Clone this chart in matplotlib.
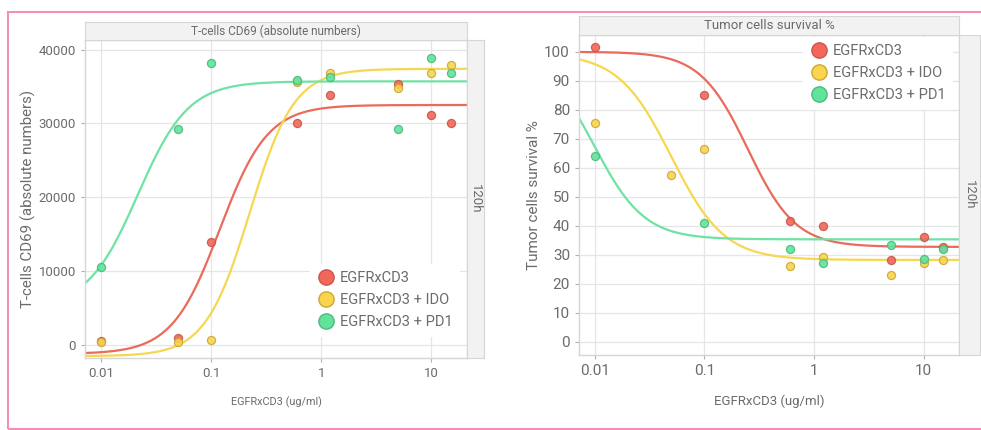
import numpy as np
import matplotlib
matplotlib.use("Agg")
import matplotlib.pyplot as plt
from matplotlib.lines import Line2D
from matplotlib.patches import Rectangle

plt.rcParams['font.family'] = ['Roboto', 'DejaVu Sans']

# ---------------- data ----------------
series_names = ["EGFRxCD3", "EGFRxCD3 + IDO", "EGFRxCD3 + PD1"]
conc = [0.01, 0.05, 0.1, 0.6, 1.2, 5, 10, 15]

cd69_red = [500, 1000, 13900, 30000, 33800, 35300, 31200, 30000]
cd69_yellow = [450, 480, 750, 35600, 36800, 34800, 36900, 37900]
cd69_green = [10600, 29200, 38200, 35900, 36300, 29200, 38900, 36900]

surv_conc_green = [0.01, 0.1, 0.6, 1.2, 5, 10, 15]
surv_red = [101.7, None, 85.0, 41.7, 39.9, 28.2, 36.0, 32.5]
surv_yellow = [75.6, 57.6, 66.3, 26.1, 29.1, 23.1, 27.0, 28.2]
surv_green = [64.1, 41.0, 32.0, 27.2, 33.2, 28.4, 32.0]

# 4PL fit parameters: bottom, top, EC50, hill
cd69_fit_red = [-1200, 32500, 0.12, 2.0]
cd69_fit_yellow = [-1500, 37400, 0.225, 2.15]
cd69_fit_green = [5000, 35700, 0.0217, 1.9]
surv_fit_red = [32.7, 100.0, 0.25, 2.0]
surv_fit_yellow = [28.2, 99.5, 0.05, 1.8]
surv_fit_green = [35.3, 100.0, 0.0099, 1.9]

cd69_yticks = [0, 10000, 20000, 30000, 40000]
surv_yticks = [0, 10, 20, 30, 40, 50, 60, 70, 80, 90, 100]
xticks = [0.01, 0.1, 1, 10]
xtick_labels = ["0.01", "0.1", "1", "10"]

# ---------------- style ----------------
W, H = 981, 430
fill_cols = ["#f2675a", "#f8d54c", "#62e39c"]
edge_cols = ["#c9574c", "#caa83a", "#4db97c"]
line_cols = ["#ea6a5b", "#f6d751", "#6fe2a4"]
txt_col = "#6b6b6b"
grid_col = "#e6e6e6"
spine_col = "#d6d6d6"
strip_face = "#f2f2f2"

fig = plt.figure(figsize=(W / 100, H / 100), dpi=100)
fig.patch.set_facecolor("white")


def fax(x0, y0, x1, y1):
    return fig.add_axes([x0 / W, 1 - y1 / H, (x1 - x0) / W, (y1 - y0) / H])


def hill_up(x, p):
    b, t, ec, h = p
    return b + (t - b) / (1 + (ec / x) ** h)


def hill_down(x, p):
    b, t, ec, h = p
    return b + (t - b) / (1 + (x / ec) ** h)


def make_panel(box, title_box, side_box, title, title_fs, ylim, yticks,
               ylabel, ylabel_fs, ylabel_pad, xlabel, xlabel_fs, xlabel_y,
               tick_fs):
    ax = fax(*box)
    ax.set_xscale("log")
    ax.set_xlim(0.0072, 21)
    ax.set_ylim(*ylim)
    ax.set_xticks(xticks)
    ax.set_xticklabels(xtick_labels)
    ax.minorticks_off()
    ax.set_yticks(yticks)
    ax.grid(True, color=grid_col, lw=0.9)
    ax.set_axisbelow(True)
    for s in ax.spines.values():
        s.set_color(spine_col)
        s.set_linewidth(1.0)
    ax.tick_params(colors="#b0b0b0", labelcolor=txt_col, labelsize=tick_fs,
                   length=3, width=0.8)
    ax.set_ylabel(ylabel, fontsize=ylabel_fs, color=txt_col,
                  labelpad=ylabel_pad)
    fig.text((box[0] + box[2]) / 2 / W, 1 - xlabel_y / H, xlabel,
             fontsize=xlabel_fs, color=txt_col, ha="center", va="center")
    # title strip
    st = fax(*title_box)
    st.set_facecolor(strip_face)
    st.set_xticks([]); st.set_yticks([])
    for s in st.spines.values():
        s.set_color(spine_col)
    st.text(0.5, 0.5, title, fontsize=title_fs, color=txt_col,
            ha="center", va="center", transform=st.transAxes)
    # side strip
    sd = fax(*side_box)
    sd.set_facecolor(strip_face)
    sd.set_xticks([]); sd.set_yticks([])
    for s in sd.spines.values():
        s.set_color(spine_col)
    sd.text(0.5, 0.5, "120h", fontsize=9.5, color=txt_col, rotation=270,
            ha="center", va="center", transform=sd.transAxes)
    return ax


xs = np.logspace(np.log10(0.0072), np.log10(21), 300)

# ---------------- left panel ----------------
axL = make_panel((85, 40, 467, 358), (85, 22, 467, 40), (467, 40, 484, 358),
                 "T-cells CD69 (absolute numbers)", 8.5,
                 (-1750, 41300), cd69_yticks,
                 "T-cells CD69 (absolute numbers)", 10.8, 2,
                 "EGFRxCD3 (ug/ml)", 7.8, 402, 9.5)
for fit, i in [(cd69_fit_red, 0), (cd69_fit_yellow, 1), (cd69_fit_green, 2)]:
    axL.plot(xs, hill_up(xs, fit), color=line_cols[i], lw=1.6, zorder=2)
for vals, i in [(cd69_red, 0), (cd69_yellow, 1), (cd69_green, 2)]:
    axL.scatter(conc, vals, s=34, color=fill_cols[i], edgecolor=edge_cols[i],
                linewidth=0.9, alpha=0.9, zorder=3)

# ---------------- right panel ----------------
axR = make_panel((579, 35, 959, 355), (579, 16, 959, 35), (959, 35, 980, 355),
                 "Tumor cells survival %", 9.5,
                 (-4.6, 105.8), surv_yticks,
                 "Tumor cells survival %", 11, 2,
                 "EGFRxCD3 (ug/ml)", 9.5, 401, 11)
for fit, i in [(surv_fit_red, 0), (surv_fit_yellow, 1), (surv_fit_green, 2)]:
    axR.plot(xs, hill_down(xs, fit), color=line_cols[i], lw=1.6, zorder=2)
red_x = [c for c, v in zip(conc, surv_red) if v is not None]
red_y = [v for v in surv_red if v is not None]
for cx, vals, i in [(red_x, red_y, 0), (conc, surv_yellow, 1),
                    (surv_conc_green, surv_green, 2)]:
    axR.scatter(cx, vals, s=34, color=fill_cols[i], edgecolor=edge_cols[i],
                linewidth=0.9, alpha=0.9, zorder=3)

# ---------------- legends ----------------
handles = [Line2D([], [], ls="none", marker="o", markersize=11,
                  markerfacecolor=fill_cols[i], markeredgecolor=edge_cols[i],
                  markeredgewidth=1.0) for i in range(3)]


def add_legend(ax, x0, y0):
    leg = ax.legend(handles, series_names, loc="upper left",
                    bbox_to_anchor=(x0 / W, 1 - y0 / H),
                    bbox_transform=fig.transFigure, frameon=True,
                    fontsize=10.5, labelcolor=txt_col, handletextpad=0.35,
                    labelspacing=0.55, borderpad=0.5, handlelength=1.2,
                    borderaxespad=0)
    fr = leg.get_frame()
    fr.set_facecolor("white")
    fr.set_edgecolor("none")
    fr.set_alpha(1)
    leg.set_zorder(5)
    return leg


add_legend(axL, 310, 264)
add_legend(axR, 803, 37)

# pink frame
fig.add_artist(Rectangle((8 / W, 1 - 429 / H), 1.1, (429 - 12) / H,
                         transform=fig.transFigure, fill=False,
                         edgecolor="#f58fb8", lw=1.5, clip_on=False))

fig.savefig("out.png", dpi=100)
